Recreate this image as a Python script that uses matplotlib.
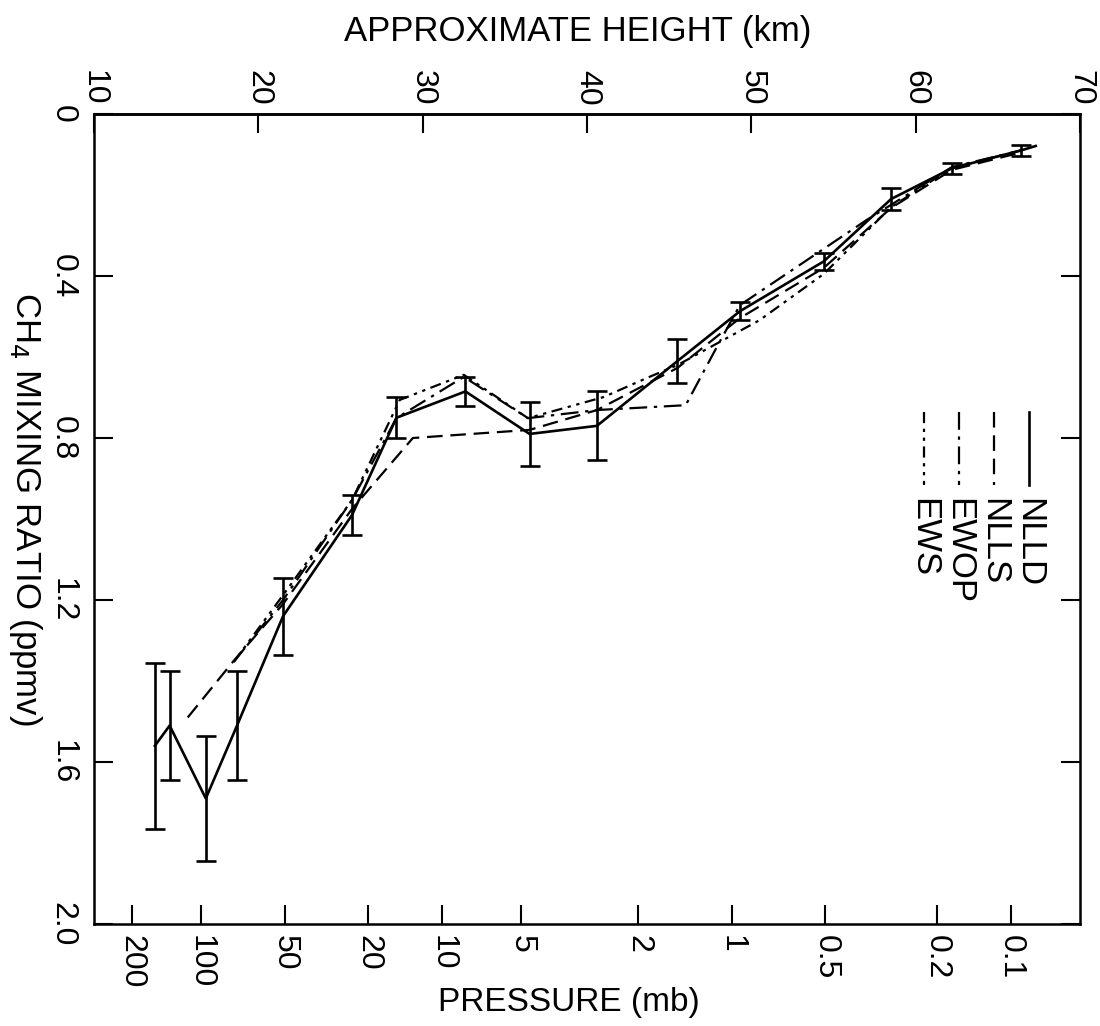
import matplotlib
matplotlib.use('Agg')
import matplotlib.pyplot as plt

plt.rcParams['font.family'] = ['Liberation Sans', 'DejaVu Sans']

# approximate height (km) vs CH4 mixing ratio (ppmv)
nlld_km = [13.7, 14.6, 16.8, 18.7, 21.5, 25.7, 28.4, 32.6, 36.5, 40.6, 45.5, 49.3, 54.4, 58.5, 62.2, 66.4, 67.3]
nlld_ratio = [1.56, 1.51, 1.69, 1.51, 1.24, 0.99, 0.75, 0.685, 0.79, 0.77, 0.61, 0.487, 0.364, 0.21, 0.134, 0.09, 0.079]
nlld_err = [0.205, 0.135, 0.155, 0.135, 0.095, 0.05, 0.05, 0.035, 0.08, 0.085, 0.055, 0.022, 0.021, 0.027, 0.013, 0.014]

nlls_km = [15.7, 18.5, 21.5, 25.7, 29.4, 36.5, 40.6, 45.5, 49.3, 54.4, 58.5, 62.2, 66.5]
nlls_ratio = [1.49, 1.35, 1.21, 0.975, 0.80, 0.78, 0.731, 0.627, 0.504, 0.38, 0.232, 0.138, 0.094]

ewop_km = [18.5, 21.5, 25.7, 28.4, 32.5, 36.4, 40.6, 46.0, 47.9, 49.3, 57.0, 62.2, 66.5]
ewop_ratio = [1.353, 1.20, 0.953, 0.751, 0.649, 0.751, 0.731, 0.719, 0.575, 0.472, 0.262, 0.131, 0.089]

ews_km = [18.5, 21.5, 25.7, 28.6, 32.5, 36.4, 41.0, 43.8, 45.5, 50.5, 54.4, 58.5, 62.2, 66.5]
ews_ratio = [1.353, 1.188, 0.953, 0.706, 0.644, 0.751, 0.699, 0.649, 0.62, 0.509, 0.395, 0.23, 0.133, 0.089]

pressure_mb = [200, 100, 50, 20, 10, 5, 2, 1, 0.5, 0.2, 0.1]
pressure_km = [12.3, 16.5, 21.6, 26.7, 31.2, 36.0, 43.1, 48.8, 54.5, 61.3, 65.8]
height_ticks = [10, 20, 30, 40, 50, 60, 70]
ratio_ticks = [0, 0.4, 0.8, 1.2, 1.6, 2.0]
ratio_labels = ['0', '0.4', '0.8', '1.2', '1.6', '2.0']

series = ['NLLD', 'NLLS', 'EWOP', 'EWS']
styles = ['-', (0, (7, 3.5)), (0, (8, 3, 1.5, 3)), (0, (5, 2.5, 1.5, 2.5, 1.5, 2.5))]

fig = plt.figure(figsize=(11, 10.26), dpi=100)
ax = fig.add_axes([0.0855, 0.0994, 0.8964, 0.7895])

ax.plot(nlld_km, nlld_ratio, color='black', lw=1.9, ls=styles[0])
ax.errorbar(nlld_km[:len(nlld_err)], nlld_ratio[:len(nlld_err)], yerr=nlld_err, fmt='none',
            ecolor='black', elinewidth=1.9, capsize=7, capthick=1.9)
ax.plot(nlls_km, nlls_ratio, color='black', lw=1.6, ls=styles[1])
ax.plot(ewop_km, ewop_ratio, color='black', lw=1.6, ls=styles[2])
ax.plot(ews_km, ews_ratio, color='black', lw=1.6, ls=styles[3])

ax.set_xlim(10, 70)
ax.set_ylim(2.0, 0)

# bottom: pressure labels placed at their approximate heights
ax.set_xticks(pressure_km)
ax.set_xticklabels([f'{p:g}' for p in pressure_mb])
ax.tick_params(axis='x', direction='in', length=14, width=1.5, labelsize=23, pad=8)
plt.setp(ax.get_xticklabels(), rotation=-90, va='top', ha='center')

ax.set_yticks(ratio_ticks)
ax.set_yticklabels(ratio_labels)
ax.tick_params(axis='y', direction='in', length=14, width=1.5, labelsize=23, pad=12,
               right=True)
plt.setp(ax.get_yticklabels(), rotation=-90, va='center', ha='right')

top = ax.secondary_xaxis('top')
top.set_xticks(height_ticks)
top.set_xticklabels([str(h) for h in height_ticks])
top.tick_params(direction='in', length=14, width=1.5, labelsize=23, pad=6)
plt.setp(top.get_xticklabels(), rotation=-90, va='bottom', ha='center')

for s in list(ax.spines.values()) + list(top.spines.values()):
    s.set_linewidth(1.8)

# legend, rotated like the rest of the figure
for i, (name, ls) in enumerate(zip(series, styles)):
    lx = 0.948 - 0.0355 * i
    ax.plot([lx, lx], [0.632, 0.542], transform=ax.transAxes, color='black',
            lw=1.9 if i == 0 else 1.6, ls=ls)
    ax.text(lx, 0.526, name, transform=ax.transAxes, rotation=-90, fontsize=25,
            ha='center', va='top')

fig.text(0.525, 1 - 32 / 1026, 'APPROXIMATE HEIGHT (km)', fontsize=25, ha='center', va='center')
fig.text(0.517, 1 - 1003 / 1026, 'PRESSURE (mb)', fontsize=24, ha='center', va='center')
fig.text(25 / 1100, 1 - 509 / 1026, 'CH$_4$ MIXING RATIO (ppmv)', fontsize=25, rotation=-90,
         ha='center', va='center')

fig.savefig('out.png', dpi=100, facecolor='white')
